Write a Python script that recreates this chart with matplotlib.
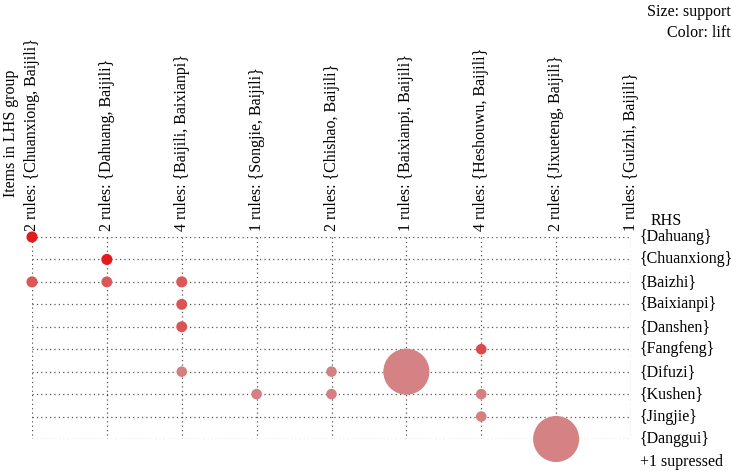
import matplotlib as mp
mp.use('Agg')
import matplotlib.pyplot as plt
import numpy as np
from matplotlib.colors import LinearSegmentedColormap, Normalize

# LHS groups (columns) and number of rules in each
lhs_groups = ["{Chuanxiong, Baijili}", "{Dahuang, Baijili}", "{Baijili, Baixianpi}",
              "{Songjie, Baijili}", "{Chishao, Baijili}", "{Baixianpi, Baijili}",
              "{Heshouwu, Baijili}", "{Jixueteng, Baijili}", "{Guizhi, Baijili}"]
n_rules = [2, 2, 4, 1, 2, 1, 4, 2, 1]

# RHS items (rows)
rhs_items = ["{Dahuang}", "{Chuanxiong}", "{Baizhi}", "{Baixianpi}", "{Danshen}",
             "{Fangfeng}", "{Difuzi}", "{Kushen}", "{Jingjie}", "{Danggui}"]

# rules shown: column, row, support, lift
rule_col = [0, 0, 1, 1, 2, 2, 2, 2, 3, 4, 4, 5, 6, 6, 6, 7]
rule_row = [0, 2, 1, 2, 2, 3, 4, 6, 7, 6, 7, 6, 5, 7, 8, 9]
support = [0.032, 0.032, 0.032, 0.031, 0.032, 0.031, 0.031, 0.029, 0.029, 0.029, 0.029,
           0.55, 0.029, 0.029, 0.029, 0.55]
lift = [3.4, 2.2, 3.4, 2.2, 2.2, 2.3, 2.3, 1.45, 1.45, 1.45, 1.45, 1.4, 2.5, 1.45, 1.45, 1.4]

plt.rcParams['font.family'] = ['Liberation Serif', 'DejaVu Serif']
FS = 11.5

def main():
    fig = plt.figure(figsize=(7.32, 4.71), dpi=100)
    W, H = 732.0, 471.0
    x0, x1 = 32.0, 631.0
    y0, y1 = 237.0, 439.0
    ax = fig.add_axes([x0 / W, 1 - y1 / H, (x1 - x0) / W, (y1 - y0) / H])
    ncol = len(lhs_groups)
    nrow = len(rhs_items)
    ax.set_xlim(0, ncol - 1)
    ax.set_ylim(nrow - 1, 0)
    ax.axis('off')

    grid = dict(color='#555555', linestyle=(0, (1, 2.5)), linewidth=0.9, zorder=1)
    ax.hlines(range(nrow), 0, ncol - 1, **grid)
    ax.vlines(range(ncol), 0, nrow - 1, **grid)

    cmap = LinearSegmentedColormap.from_list('lift', ['#d48284', '#e41a1c'])
    norm = Normalize(vmin=min(lift), vmax=max(lift))
    ax.scatter(rule_col, rule_row, s=np.array(support) * 2000, c=cmap(norm(lift)),
               linewidths=0, zorder=2, clip_on=False)

    # column labels
    for i, g in enumerate(lhs_groups):
        ax.annotate("%d rules: %s" % (n_rules[i], g), xy=(i, 0), xytext=(0, 4),
                    textcoords='offset points', rotation=90, ha='center', va='bottom',
                    fontsize=FS)
    # row labels
    for j, r in enumerate(rhs_items):
        ax.annotate(r, xy=(ncol - 1, j), xytext=(6, 0), textcoords='offset points',
                    ha='left', va='center', fontsize=FS)
    fig.text(640 / W, 1 - 462 / H, "+1 supressed", ha='left', va='center', fontsize=FS)
    fig.text(666 / W, 1 - 221 / H, "RHS", ha='center', va='center', fontsize=FS)
    fig.text(11 / W, 1 - 197 / H, "Items in LHS group", rotation=90, ha='center',
             va='bottom', fontsize=FS)
    fig.text(731 / W, 1 - 12 / H, "Size: support", ha='right', va='center', fontsize=FS)
    fig.text(731 / W, 1 - 33 / H, "Color: lift", ha='right', va='center', fontsize=FS)

    fig.savefig('out.png', dpi=100)

if __name__ == "__main__":
    main()
